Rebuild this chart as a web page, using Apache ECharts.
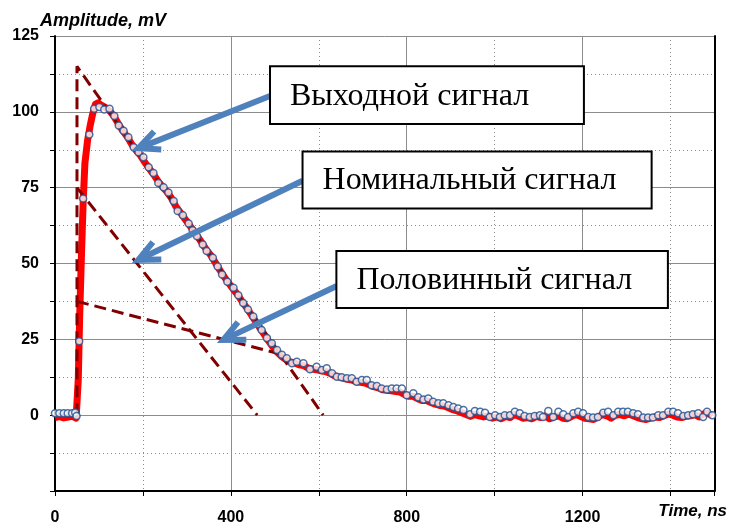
<!DOCTYPE html>
<html>
<head>
<meta charset="utf-8">
<script src="https://cdn.jsdelivr.net/npm/echarts@6.0.0/dist/echarts.min.js"></script>
<style>
html,body{margin:0;padding:0;background:#fff;}
#chart{width:729px;height:526px;}
</style>
</head>
<body>
<div id="chart"></div>
<script>
// ---- data ----
const fitTime = [0,10,20,29,39,46,49,55,64,78,89,101,112,124,135,145,156,167,179,190,201,213,224,235,247,258,270,279,291,304,313,323,336,345,359,370,380,392,406,417,428,439,451,462,470,482,493,505,516,527,539,550,565,580,595,607,618,630,641,652,664,675,686,698,709,720,732,743,755,766,777,789,800,815,826,838,849,860,872,883,895,906,917,929,944,955,967,978,989,1001,1012,1023,1035,1046,1057,1068,1080,1091,1103,1110,1122,1133,1145,1156,1167,1179,1190,1201,1213,1224,1235,1247,1258,1270,1281,1292,1303,1315,1326,1338,1349,1360,1372,1383,1395,1406,1417,1429,1440,1451,1463,1474,1483,1495];
const fitAmp = [0.6,0.6,0.6,0.6,0.6,0.9,-0.3,24.4,71.4,92.5,101,101.6,100.8,101,98.6,95.5,93.8,91.6,88.3,86.7,85,81.7,79.8,76.5,75.1,73.4,70.6,67.3,65.9,63.2,61,59,56.3,54.1,51.9,49,46.4,44,42,39.5,37,34.8,32.5,30,28.1,25.4,23.7,21.5,19.9,18.8,17.1,17.6,17.1,15.1,16.0,14.9,15.5,13.8,12.7,12.5,12.2,12.2,11.0,11.6,11.6,9.9,9.6,8.8,8.5,8.8,8.8,8.8,6.6,7.2,5.9,5.2,5.5,4.4,3.9,3.9,3.3,2.7,2.2,1.7,0.3,1.4,1.1,0.8,-0.6,0,-0.6,0,0,1.1,0.6,-0.3,-0.6,-0.3,0,-0.6,1.4,-0.6,1.1,0.3,-0.6,0.6,1.1,0.6,-0.6,-0.8,-0.6,0.8,1.1,0,1.1,1.1,1.1,0.6,0.3,-0.8,-0.8,-0.8,0,0,1.1,1.1,0.6,-0.3,0,0.3,0.6,-0.6,1.1,0];

const measTime = [0,10,20,30,40,48,51,53,56,60,64,68,74,80,86,92,98,105,115,125,135,145,155,165,175,185,195,205,215,225,235,245,255,265,275,285,295,305,315,325,335,345,355,365,375,385,395,405,415,425,435,445,455,465,475,485,495,505,515,525,535,545,555,565,575,585,595,605,615,625,635,645,655,665,675,685,695,705,715,725,735,745,755,765,775,785,795,805,815,825,835,845,855,865,875,885,895,905,915,925,935,945,955,965,975,985,995,1005,1015,1025,1035,1045,1055,1065,1075,1085,1095,1105,1115,1125,1135,1145,1155,1165,1175,1185,1195,1205,1215,1225,1235,1245,1255,1265,1275,1285,1295,1305,1315,1325,1335,1345,1355,1365,1375,1385,1395,1405,1415,1425,1435,1445,1455,1465,1475,1485,1495];
const measAmp = [-0.8,-0.5,-0.9,-0.6,-0.4,-1.0,-1.2,12,32,52,70,83,90.5,95.5,99.5,102.5,103,102.2,101.4,100.2,98.3,95.8,93.6,91.6,89.2,87.2,85.5,83.2,81.2,79.2,77,75.2,73.6,71.5,68.8,66.8,64.8,62.8,60.8,58.8,56.6,54.4,52.6,50.2,47.8,45.6,43.5,41.6,39.8,37.6,35.6,33.4,31.2,29,26.8,24.6,22.6,20.8,19.4,18.4,17.6,17.2,16.6,16.4,15.6,15.2,15.0,14.6,14.4,13.8,13.0,12.6,12.2,11.8,11.6,11.0,10.8,10.6,10.0,9.4,9.0,8.4,8.2,8.0,7.8,7.6,6.8,6.2,6.2,5.4,4.8,4.8,4.2,3.6,3.2,3.0,2.4,1.8,1.4,0.8,0.2,-0.4,0.2,-0.2,-0.6,-0.2,-1.0,-0.6,-1.2,-0.4,-0.8,0.2,-0.4,-1.0,-0.8,-1.2,-0.4,-0.8,-0.2,-1.2,-0.6,-0.2,-1.0,-1.2,-0.4,0.2,-0.4,-1.0,-1.2,-1.4,-0.6,0.2,-0.2,-1.0,0.0,0.2,-0.2,0.4,-0.2,-0.8,-1.2,-1.4,-1.0,-0.6,-0.8,-0.2,0.4,0.0,-0.6,-0.8,-0.4,-0.2,0.2,-0.6,0.4,0.6,-0.2];

// construction (dashed) lines
const peakLineTime = [50, 50, 610];
const peakLineAmp = [0, 115, 0];
const nominalLineTime = [50, 460];
const nominalLineAmp = [75, 0];
const halfLineTime = [50, 520];
const halfLineAmp = [37.5, 19.9];

// axis ticks
const xTickLabels = [0, 400, 800, 1200];
const yTickLabels = [0, 25, 50, 75, 100, 125];

// callouts (text + anchor positions in data units)
const calloutTexts = ['Выходной сигнал', 'Номинальный сигнал', 'Половинный сигнал'];
const calloutBoxes = [[489, 115, 1203, 96], [563, 86.9, 1357, 68.1], [640, 54.1, 1394, 35.3]];
const calloutArrows = [[489, 105.2, 189.5, 88.0], [563, 77.3, 189.5, 51.2], [640.7, 42.6, 382.8, 24.8]];

// ---- chart ----
const zip = (a, b) => a.map((v, i) => [v, b[i]]);
const chart = echarts.init(document.getElementById('chart'), null, {renderer: 'canvas'});
const gridGray = '#8c8c8c';
const darkRed = '#800000';
const dashed = {color: darkRed, width: 3, type: [12, 6]};

chart.setOption({
  animation: false,
  grid: {left: 55, right: 14.5, top: 36, bottom: 35, containLabel: false},
  xAxis: [{
    type: 'value', min: 0, max: 1500, interval: 200, position: 'bottom',
    axisLine: {show: true, onZero: false, lineStyle: {color: '#000', width: 2}},
    axisTick: {show: true, inside: false, length: 5, lineStyle: {color: '#000', width: 1}},
    axisLabel: {
      interval: 0, margin: 19, color: '#000', fontFamily: 'Liberation Sans, Arial', fontWeight: 'bold', fontSize: 16,
      formatter: v => xTickLabels.indexOf(v) >= 0 ? String(v) : ''
    },
    splitLine: {show: true, lineStyle: {color: gridGray, width: 1, type: [1, 3]}}
  }, {
    type: 'value', min: 0, max: 1500, interval: 400, position: 'top',
    axisLine: {show: false}, axisTick: {show: false}, axisLabel: {show: false},
    splitLine: {show: true, lineStyle: {color: gridGray, width: 1}}
  }],
  yAxis: [{
    type: 'value', min: -25, max: 125, interval: 12.5, position: 'left',
    axisLine: {show: true, onZero: false, lineStyle: {color: '#000', width: 2}},
    axisTick: {show: true, inside: false, length: 5, lineStyle: {color: '#000', width: 1}},
    axisLabel: {
      interval: 0, margin: 16, color: '#000', fontFamily: 'Liberation Sans, Arial', fontWeight: 'bold', fontSize: 16,
      formatter: v => yTickLabels.indexOf(v) >= 0 ? String(v) : ''
    },
    splitLine: {show: true, lineStyle: {color: gridGray, width: 1, type: [1, 3]}}
  }, {
    type: 'value', min: -25, max: 125, interval: 25, position: 'right',
    axisLine: {show: true, onZero: false, lineStyle: {color: '#000', width: 2}},
    axisTick: {show: false}, axisLabel: {show: false},
    splitLine: {show: true, lineStyle: {color: gridGray, width: 1}}
  }],
  series: [
    {
      name: 'measured', type: 'line', xAxisIndex: 0, yAxisIndex: 0, z: 2,
      data: zip(measTime, measAmp), showSymbol: false, symbol: 'none',
      lineStyle: {color: '#ff0000', width: 7, join: 'round'}
    },
    {
      name: 'peak', type: 'line', xAxisIndex: 0, yAxisIndex: 0, z: 3,
      data: zip(peakLineTime, peakLineAmp), symbol: 'none', lineStyle: dashed
    },
    {
      name: 'nominal', type: 'line', xAxisIndex: 0, yAxisIndex: 0, z: 3,
      data: zip(nominalLineTime, nominalLineAmp), symbol: 'none', lineStyle: dashed
    },
    {
      name: 'half', type: 'line', xAxisIndex: 0, yAxisIndex: 0, z: 3,
      data: zip(halfLineTime, halfLineAmp), symbol: 'none', lineStyle: dashed
    },
    {
      name: 'model', type: 'scatter', xAxisIndex: 0, yAxisIndex: 0, z: 4,
      data: zip(fitTime, fitAmp), symbol: 'circle', symbolSize: 7,
      itemStyle: {color: '#ffffff', borderColor: '#1f4f8f', borderWidth: 1.5}
    }
  ]
});

function px(p) { return chart.convertToPixel({gridIndex: 0}, p); }

const graphics = [];
graphics.push({
  type: 'text', z: 100,
  style: {text: 'Amplitude, mV', x: 40, y: 21, verticalAlign: 'middle', align: 'left',
    font: 'italic bold 18px "Liberation Sans", Arial', fill: '#000'}
});
graphics.push({
  type: 'text', z: 100,
  style: {text: 'Time, ns', x: 727, y: 511, verticalAlign: 'middle', align: 'right',
    font: 'italic bold 17px "Liberation Sans", Arial', fill: '#000'}
});

calloutArrows.forEach(a => {
  const tail = px([a[0], a[1]]);
  const tip = px([a[2], a[3]]);
  const dx = tail[0] - tip[0], dy = tail[1] - tip[1];
  const len = Math.hypot(dx, dy);
  const ux = dx / len, uy = dy / len;
  const ang = 25 * Math.PI / 180, bl = 23;
  const rot = (s) => [tip[0] + bl * (ux * Math.cos(s) - uy * Math.sin(s)), tip[1] + bl * (ux * Math.sin(s) + uy * Math.cos(s))];
  graphics.push({
    type: 'line', z: 90,
    shape: {x1: tail[0], y1: tail[1], x2: tip[0] + ux * 3, y2: tip[1] + uy * 3},
    style: {stroke: '#4F81BD', lineWidth: 6}
  });
  graphics.push({
    type: 'polyline', z: 90,
    shape: {points: [rot(ang), tip, rot(-ang)]},
    style: {stroke: '#4F81BD', lineWidth: 6, lineJoin: 'miter', fill: null}
  });
});

calloutBoxes.forEach((b, i) => {
  const p0 = px([b[0], b[1]]);
  const p1 = px([b[2], b[3]]);
  graphics.push({
    type: 'rect', z: 95,
    shape: {x: p0[0], y: p0[1], width: p1[0] - p0[0], height: p1[1] - p0[1]},
    style: {fill: '#ffffff', stroke: '#000', lineWidth: 2}
  });
  graphics.push({
    type: 'text', z: 96,
    style: {text: calloutTexts[i], x: p0[0] + 20, y: (p0[1] + p1[1]) / 2 + 1, verticalAlign: 'middle', align: 'left',
      font: '32px "Liberation Serif", "Times New Roman", serif', fill: '#000'}
  });
});

chart.setOption({graphic: graphics});
</script>
</body>
</html>
